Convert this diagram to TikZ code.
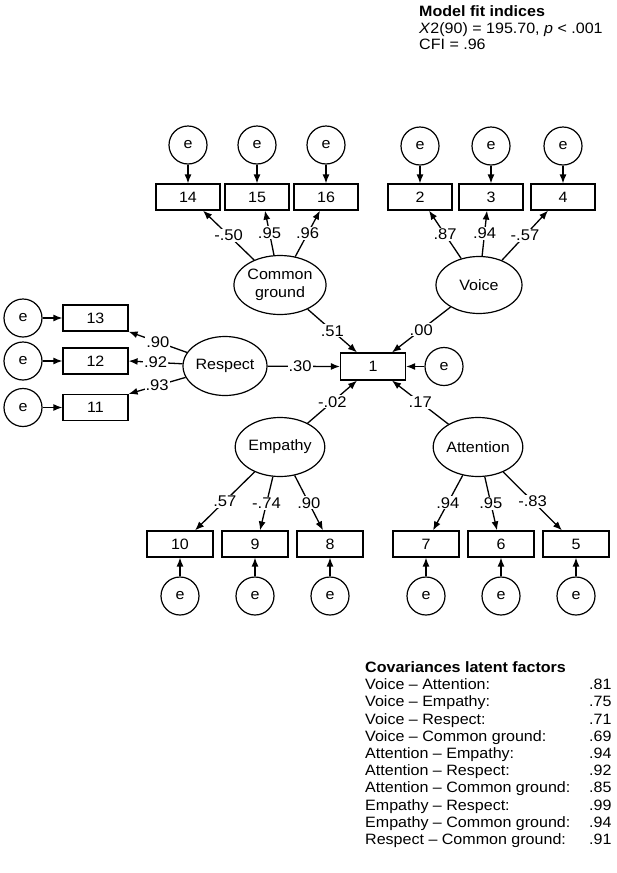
\documentclass[tikz,border=0pt]{standalone}
\usepackage{fontspec}
\setmainfont{Liberation Sans}[FakeStretch=1.07]
\usetikzlibrary{shapes.geometric,arrows.meta,calc}
\begin{document}
\begin{tikzpicture}[x=1pt,y=-1pt,
  font=\fontsize{15}{18}\selectfont,
  obs/.style={draw,rectangle,line width=1.2pt,minimum width=64pt,minimum height=26pt,inner sep=0pt},
  lat/.style={draw,ellipse,line width=1.2pt,minimum width=86pt,minimum height=59pt,inner sep=0pt,align=center},
  err/.style={draw,circle,line width=1.2pt,minimum size=38pt,inner sep=0pt},
  arr/.style={-{Latex[length=9pt,width=7pt]},line width=1.3pt},
  coef/.style={fill=white,inner sep=1pt,font=\fontsize{15.5}{17}\selectfont},
  txt/.style={anchor=base west,inner sep=0pt}]
\useasboundingbox (0,0) rectangle (617,873);

% fit indices
\node[txt] (fit1) at (419,16) {\bfseries Model fit indices};
\node[txt] (fit2) at (419,33) {\textit{X}2(90) = 195.70, \textit{p} < .001};
\node[txt] (fit3) at (419,49.5) {CFI = .96};

% latent factors
\node[lat] (cg) at (280,285) {Common\\ground};
\node[lat,minimum height=57pt] (voice) at (479,285) {Voice};
\node[lat,minimum width=84pt] (resp) at (225,366) {Respect};
\node[lat] (emp) at (280,447) {Empathy};
\node[lat] (att) at (478,447) {Attention};

% central
\node[obs,minimum width=65pt,minimum height=27pt] (b1) at (373,366.5) {1};
\node[err] (e1) at (444,366.5) {e};

% top left
\node[obs] (b14) at (188,197) {14};
\node[obs] (b15) at (257,197) {15};
\node[obs] (b16) at (326,197) {16};
\node[err] (e14) at (188,145) {e};
\node[err] (e15) at (257,145) {e};
\node[err] (e16) at (326,145) {e};
% top right
\node[obs] (b2) at (420,197) {2};
\node[obs] (b3) at (491,197) {3};
\node[obs] (b4) at (563,197) {4};
\node[err] (e2) at (420,146) {e};
\node[err] (e3) at (491,146) {e};
\node[err] (e4) at (563,146) {e};
% left
\node[obs,minimum width=65pt] (b13) at (95.5,318) {13};
\node[obs,minimum width=65pt] (b12) at (95.5,361) {12};
\node[obs,minimum width=65pt] (b11) at (95.5,407.5) {11};
\node[err] (e13) at (23,318) {e};
\node[err] (e12) at (23,361) {e};
\node[err] (e11) at (23,407.5) {e};
% bottom left
\node[obs,minimum width=66pt] (b10) at (180,544) {10};
\node[obs,minimum width=66pt] (b9) at (255,544) {9};
\node[obs,minimum width=66pt] (b8) at (330,544) {8};
\node[err] (e10) at (180,596) {e};
\node[err] (e9) at (255,596) {e};
\node[err] (e8) at (330,596) {e};
% bottom right
\node[obs,minimum width=66pt] (b7) at (426,544) {7};
\node[obs,minimum width=66pt] (b6) at (501,544) {6};
\node[obs,minimum width=66pt] (b5) at (576,544) {5};
\node[err] (e7) at (426,596) {e};
\node[err] (e6) at (501,596) {e};
\node[err] (e5) at (576,596) {e};

% error arrows
\foreach \e/\b in {e14/b14,e15/b15,e16/b16,e2/b2,e3/b3,e4/b4,e13/b13,e12/b12,e11/b11,e10/b10,e9/b9,e8/b8,e7/b7,e6/b6,e5/b5,e1/b1}
  \draw[arr] (\e) -- (\b);

% loadings
\draw[arr] (cg) -- node[coef]{-.50} ($(b14.south)+(15,0)$);
\draw[arr] (cg) -- node[coef]{.95} ($(b15.south)+(8,0)$);
\draw[arr] (cg) -- node[coef]{.96} ($(b16.south)+(-6,0)$);
\draw[arr] (voice) -- node[coef]{.87} ($(b2.south)+(9,0)$);
\draw[arr] (voice) -- node[coef]{.94} ($(b3.south)+(-4,0)$);
\draw[arr] (voice) -- node[coef]{-.57} ($(b4.south)+(-15,0)$);
\draw[arr] (resp) -- node[coef]{.90} (b13.south east);
\draw[arr] (resp) -- node[coef]{.92} (b12.east);
\draw[arr] (resp) -- node[coef]{.93} (b11.north east);
\draw[arr] (emp) -- node[coef]{.57} ($(b10.north)+(15,0)$);
\draw[arr] (emp) -- node[coef]{-.74} ($(b9.north)+(5,0)$);
\draw[arr] (emp) -- node[coef]{.90} ($(b8.north)+(-7,0)$);
\draw[arr] (att) -- node[coef]{.94} ($(b7.north)+(7,0)$);
\draw[arr] (att) -- node[coef]{.95} ($(b6.north)+(-4,0)$);
\draw[arr] (att) -- node[coef]{-.83} ($(b5.north)+(-14,0)$);

% structural paths
\draw[arr] (resp) -- node[coef,pos=0.45]{.30} (b1.west);
\draw[arr] (cg) -- node[coef]{.51} ($(b1.north)+(-16,0)$);
\draw[arr] (voice) -- node[coef]{.00} ($(b1.north)+(19,0)$);
\draw[arr] (emp) -- node[coef]{-.02} ($(b1.south)+(-16,0)$);
\draw[arr] (att) -- node[coef]{.17} ($(b1.south)+(19,0)$);

% covariance table
\node[txt] (covt) at (365,672.5) {\bfseries Covariances latent factors};
\foreach \t/\v [count=\i] in {Voice – Attention:/.81, Voice – Empathy:/.75, Voice – Respect:/.71, Voice – Common ground:/.69, Attention – Empathy:/.94, Attention – Respect:/.92, Attention – Common ground:/.85, Empathy – Respect:/.99, Empathy – Common ground:/.94, Respect – Common ground:/.91}
{
  \node[txt] (covl\i) at (365,{672.5+17.2*\i}) {\t};
  \node[txt] (covv\i) at (589,{672.5+17.2*\i}) {\v};
}
\end{tikzpicture}
\end{document}
